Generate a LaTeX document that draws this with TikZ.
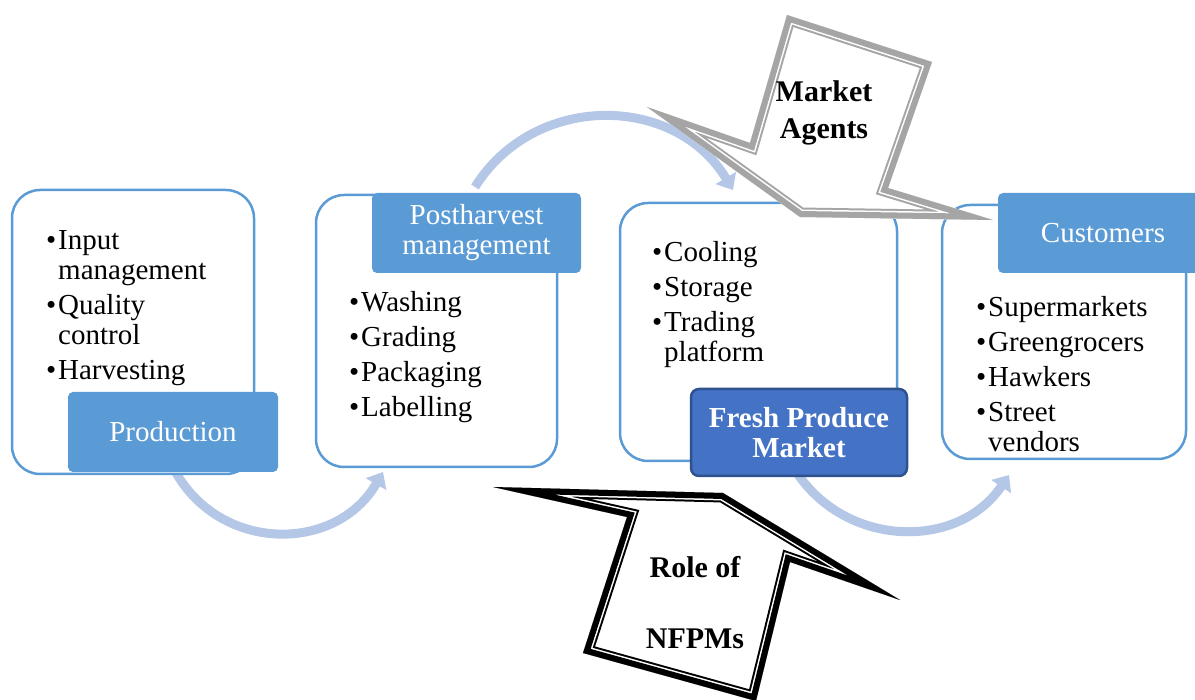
\documentclass[tikz,border=0pt]{standalone}
\usepackage{fontspec}
\setmainfont{Liberation Serif}
\usetikzlibrary{arrows.meta}

\definecolor{boxblue}{HTML}{5B9BD5}
\definecolor{marketblue}{HTML}{4472C4}
\definecolor{marketedge}{HTML}{2F528F}
\definecolor{flowblue}{HTML}{B4C7E7}
\definecolor{agentgray}{HTML}{A5A5A5}

\newcommand\bitem[1]{\hangindent=12pt\hangafter=1\noindent\makebox[12pt][l]{\textbullet}#1\par}
\newcommand\agentsshape{(787,-15) -- (932,-62) -- (888,-188) -- (993,-220) -- (800,-217) -- (647,-107) -- (750,-143) -- cycle}
\newcommand\roleshape{(493,-487) -- (723,-493) -- (900,-600) -- (790,-562) -- (756,-701) -- (583,-653) -- (627,-517) -- cycle}

\tikzset{
  stage/.style={draw=boxblue, line width=2.5pt, rounded corners=28pt, fill=white},
  head/.style={fill=boxblue, rounded corners=5pt, text=white, align=center, inner sep=0pt,
    font=\fontsize{29}{30}\selectfont},
  fpmhead/.style={fill=marketblue, draw=marketedge, line width=2.5pt, rounded corners=8pt, text=white,
    align=center, inner sep=0pt, font=\fontsize{29}{30}\selectfont\bfseries},
  bullets/.style={anchor=base west, inner sep=0pt, text width=200pt, align=left,
    font=\fontsize{29}{30}\selectfont, execute at begin node={\setlength{\parskip}{5pt}}},
  flow/.style={draw=flowblue, line width=9pt, -{Triangle[width=23pt,length=14pt]}},
  calltext/.style={align=center, inner sep=0pt, font=\fontsize{30}{#1}\selectfont\bfseries},
}

\begin{document}
\begin{tikzpicture}[x=1pt,y=1pt]
\useasboundingbox (0,0) rectangle (1195,-700);

% curved flow arrows (behind the stages)
\coordinate (a1s) at (175,-471);
\coordinate (a1e) at (383,-472);
\coordinate (a2s) at (475,-187);
\coordinate (a2e) at (733,-190);
\coordinate (a3s) at (797,-473);
\coordinate (a3e) at (1009,-475);
\draw[flow] (a1s) to[out=299,in=240,looseness=1.15] (a1e);
\draw[flow] (a2s) to[out=58,in=121,looseness=1.11] (a2e);
\draw[flow] (a3s) to[out=304,in=236,looseness=1.09] (a3e);

% stages
\node[stage, minimum width=242pt, minimum height=284pt] (prodbox) at (133,-332) {};
\node[stage, minimum width=241pt, minimum height=272pt] (posthbox) at (436.5,-331) {};
\node[stage, minimum width=277pt, minimum height=258pt] (marketbox) at (758.5,-332) {};
\node[stage, minimum width=244pt, minimum height=254pt] (custbox) at (1064,-332) {};

\node[bullets] (prodlist) at (46,-250) {\bitem{Input\newline management}\bitem{Quality\newline control}\bitem{Harvesting}};
\node[bullets] (posthlist) at (349,-312) {\bitem{Washing}\bitem{Grading}\bitem{Packaging}\bitem{Labelling}};
\node[bullets] (marketlist) at (652,-262) {\bitem{Cooling}\bitem{Storage}\bitem{Trading\newline platform}};
\node[bullets] (custlist) at (976,-317) {\bitem{Supermarkets}\bitem{Greengrocers}\bitem{Hawkers}\bitem{Street\newline vendors}};

% headers
\node[head, minimum width=210pt, minimum height=80pt] (prodhead) at (173,-432) {Production};
\node[head, minimum width=209pt, minimum height=80pt] (posthhead) at (476.5,-233) {Postharvest\\management};
\node[fpmhead, minimum width=216pt, minimum height=87pt] (fpm) at (799,-432.5) {Fresh Produce\\Market};
\node[head, minimum width=210pt, minimum height=80pt] (custhead) at (1103,-233) {Customers};

% market agents callout
\fill[white] \agentsshape;
\begin{scope}
\clip \agentsshape;
\draw[agentgray, line width=19pt] \agentsshape;
\draw[white, line width=15pt] \agentsshape;
\draw[agentgray, line width=12pt] \agentsshape;
\end{scope}
\node[calltext=37] (agents) at (824,-113) {Market\\Agents};

% role of NFPMs callout
\fill[white] \roleshape;
\begin{scope}
\clip \roleshape;
\draw[black, line width=19pt] \roleshape;
\draw[white, line width=15pt] \roleshape;
\draw[black, line width=12pt] \roleshape;
\end{scope}
\node[calltext=71] (role) at (695,-603) {Role of\\NFPMs};
\end{tikzpicture}
\end{document}
